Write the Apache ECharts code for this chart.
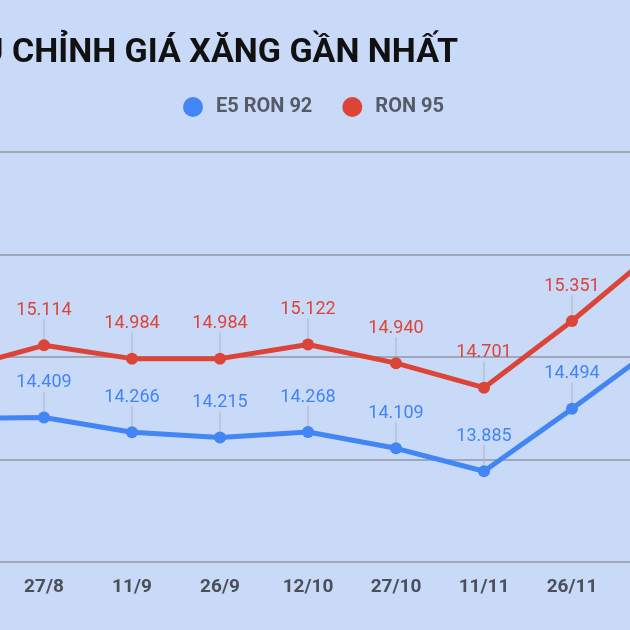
<!DOCTYPE html>
<html>
<head>
<meta charset="utf-8">
<script src="https://cdn.jsdelivr.net/npm/echarts@6/dist/echarts.min.js"></script>
<style>
html,body{margin:0;padding:0;width:630px;height:630px;overflow:hidden;background:#c9daf8;}
#c{position:absolute;left:-88px;top:0;width:792px;height:630px;}
</style>
</head>
<body>
<div id="c"></div>
<script>
var categories = ['12/8','27/8','11/9','26/9','12/10','27/10','11/11','26/11','11/12'];
var e5Ron92 = [14.400, 14.409, 14.266, 14.215, 14.268, 14.109, 13.885, 14.494, 15.130];
var ron95 = [14.878, 15.114, 14.984, 14.984, 15.122, 14.940, 14.701, 15.351, 16.070];
var yTicks = [13, 14, 15, 16, 17];

var chart = echarts.init(document.getElementById('c'));
function fmt(p){ return p.value.toFixed(3); }
function mkSeries(name, data, color){
  return {
    name: name, type: 'line', data: data,
    symbol: 'circle', symbolSize: 12,
    lineStyle: {width: 5, color: color},
    itemStyle: {color: color},
    label: {show: true, position: 'top', distance: 4, formatter: fmt,
      color: color, fontFamily: 'Roboto', fontSize: 18},
    labelLayout: {dy: -16},
    labelLine: {show: true, lineStyle: {color: '#aab3c4', width: 1}},
    z: 3
  };
}
chart.setOption({
  backgroundColor: '#c9daf8',
  animation: false,
  title: {
    text: 'ĐIỀU CHỈNH GIÁ XĂNG GẦN NHẤT',
    right: 246, top: 36, padding: 0,
    textStyle: {fontFamily: 'Roboto', fontWeight: 'bold', fontSize: 34, color: '#111111'}
  },
  legend: {
    left: 271, top: 97, padding: 0,
    icon: 'circle', itemWidth: 20, itemHeight: 20, itemGap: 30,
    textStyle: {fontFamily: 'Roboto', fontWeight: 'bold', fontSize: 20, color: '#555b66', padding: [0,0,0,8]},
    data: ['E5 RON 92', 'RON 95']
  },
  grid: {left: 0, right: 0, top: 152, bottom: 68},
  xAxis: {
    type: 'category', data: categories, boundaryGap: true,
    axisLine: {show: true, lineStyle: {color: '#9ea8ba', width: 2}},
    axisTick: {show: false},
    axisLabel: {color: '#4a4f5a', fontFamily: 'Roboto', fontWeight: 'bold', fontSize: 19, margin: 16}
  },
  yAxis: {
    type: 'value', min: yTicks[0], max: yTicks[yTicks.length-1], interval: 1,
    axisLabel: {show: false}, axisLine: {show: false}, axisTick: {show: false},
    splitLine: {lineStyle: {color: '#9ea8ba', width: 2}}
  },
  series: [mkSeries('E5 RON 92', e5Ron92, '#4285f4'), mkSeries('RON 95', ron95, '#db4437')]
});
</script>
</body>
</html>
